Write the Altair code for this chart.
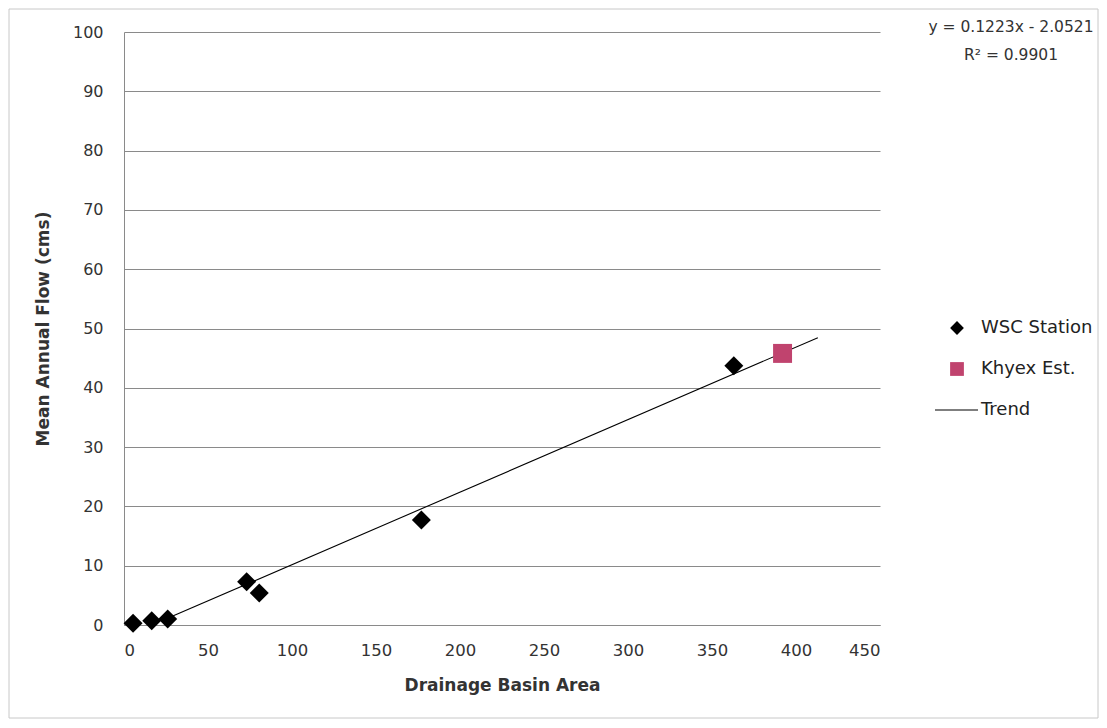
import altair as alt
import pandas as pd

# --- data ---
wsc_area = [5.4, 16.5, 26.0, 73.0, 80.5, 177.0, 363.0]
wsc_flow = [0.3, 0.7, 1.0, 7.3, 5.4, 17.7, 43.7]
khyex_area = [392.0]
khyex_flow = [45.8]
slope = 0.1223
intercept = -2.0521
trend_x = [28.0, 413.0]
series_names = ["WSC Station", "Khyex Est.", "Trend"]
series_colors = ["black", "#C0436E", "black"]
series_shapes = ["diamond", "square", "stroke"]
x_ticks = [0, 50, 100, 150, 200, 250, 300, 350, 400, 450]
y_ticks = [0, 10, 20, 30, 40, 50, 60, 70, 80, 90, 100]
eq_lines = ["y = 0.1223x - 2.0521", "R² = 0.9901"]

FONT = "DejaVu Sans"

pts = pd.DataFrame(
    {"area": wsc_area + khyex_area,
     "flow": wsc_flow + khyex_flow,
     "series": ["WSC Station"] * len(wsc_area) + ["Khyex Est."] * len(khyex_area)}
)
trend = pd.DataFrame({"area": trend_x,
                      "flow": [slope * v + intercept for v in trend_x],
                      "series": ["Trend"] * len(trend_x)})
leg = pd.DataFrame({"series": series_names, "row": list(range(len(series_names)))})

xs = alt.Scale(domain=[0, 450], nice=False, zero=False)
ys = alt.Scale(domain=[0, 100], nice=False, zero=False)
cscale = alt.Scale(domain=series_names, range=series_colors)
sscale = alt.Scale(domain=series_names, range=series_shapes)
legy = alt.Scale(domain=[0, 2], range=[296, 378], nice=False, zero=False)

xaxis = alt.Axis(values=x_ticks, title="Drainage Basin Area", grid=False, ticks=False,
                 domain=True, domainColor="#8a8a8a", labelFont=FONT, labelFontSize=16.5,
                 labelColor="#333333", labelPadding=17, titleFont=FONT, titleFontSize=17,
                 titleFontWeight="bold", titleColor="#333333", titlePadding=19)
yaxis = alt.Axis(values=y_ticks, title="Mean Annual Flow (cms)", grid=True, gridColor="#8a8a8a",
                 ticks=False, domain=True, domainColor="#8a8a8a", labelFont=FONT, labelFontSize=16,
                 labelColor="#333333", labelPadding=21, titleFont=FONT, titleFontSize=17,
                 titleFontWeight="bold", titleColor="#333333", titlePadding=20)

line = alt.Chart(trend).mark_line(strokeWidth=1.1).encode(
    x=alt.X("area:Q", scale=xs, axis=xaxis),
    y=alt.Y("flow:Q", scale=ys, axis=yaxis),
    color=alt.Color("series:N", scale=cscale, legend=None),
)

points = alt.Chart(pts).mark_point(filled=True, opacity=1, size=360).encode(
    x=alt.X("area:Q", scale=xs, axis=xaxis),
    y=alt.Y("flow:Q", scale=ys, axis=None),
    color=alt.Color("series:N", scale=cscale, legend=None),
    shape=alt.Shape("series:N", scale=sscale, legend=None),
)

# manual legend
leg_sym = alt.Chart(leg).transform_filter("datum.row < 2").mark_point(
    filled=True, opacity=1, size=190).encode(
    x=alt.value(833),
    y=alt.Y("row:Q", scale=legy, axis=None),
    color=alt.Color("series:N", scale=cscale, legend=None),
    shape=alt.Shape("series:N", scale=sscale, legend=None),
)
leg_line = alt.Chart(leg).transform_filter("datum.row == 2").mark_rule(
    color="black", strokeWidth=1.1).encode(
    x=alt.value(811), x2=alt.value(854),
    y=alt.Y("row:Q", scale=legy, axis=None),
)
leg_text = alt.Chart(leg).mark_text(font=FONT, fontSize=18, color="#222222", align="left",
                                    baseline="middle").encode(
    x=alt.value(857),
    y=alt.Y("row:Q", scale=legy, axis=None),
    text="series:N",
)

eq = pd.DataFrame({"t": eq_lines, "row": [0, 1]})
eq_text = alt.Chart(eq).mark_text(font=FONT, fontSize=15.5, color="#333333", align="center",
                                  baseline="middle").encode(
    x=alt.value(887),
    y=alt.Y("row:Q", scale=alt.Scale(domain=[0, 1], range=[-5, 23]), axis=None),
    text="t:N",
)

border = alt.Chart(pd.DataFrame({"a": [0]})).mark_rect(fill=None, stroke="#c8c8c8", strokeWidth=1).encode(
    x=alt.value(-115), x2=alt.value(974), y=alt.value(-23), y2=alt.value(686)
)

chart = alt.layer(border, line, points, leg_sym, leg_line, leg_text, eq_text).resolve_scale(
    y="independent").properties(
    width=756, height=593,
    background="white",
    autosize=alt.AutoSizeParams(type="none"),
    padding={"left": 116, "top": 24, "right": 219, "bottom": 95},
).configure_view(stroke=None)

chart.save("out.html", embed_options={"renderer": "svg", "actions": False})
